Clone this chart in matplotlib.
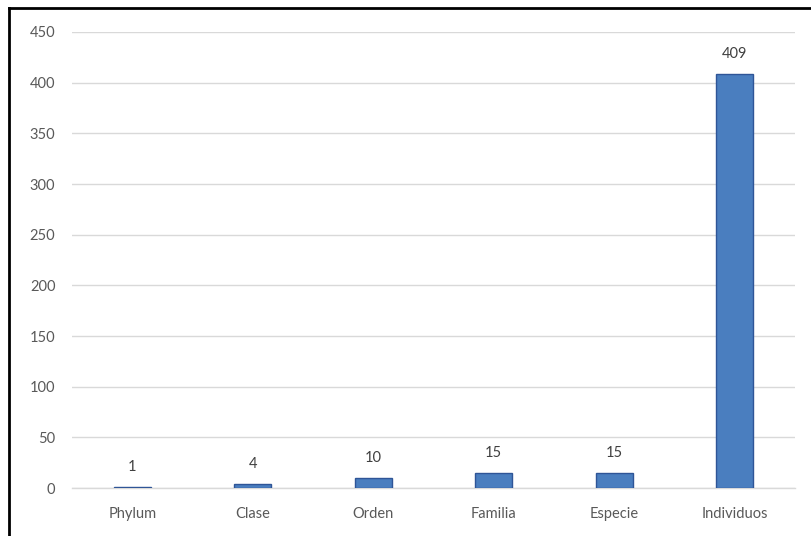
import matplotlib
matplotlib.use("Agg")
import matplotlib.pyplot as plt
from matplotlib.lines import Line2D

categories = ["Phylum", "Clase", "Orden", "Familia", "Especie", "Individuos"]
values = [1, 4, 10, 15, 15, 409]
yticks = [0, 50, 100, 150, 200, 250, 300, 350, 400, 450]

plt.rcParams["font.family"] = ["Lato", "DejaVu Sans"]

fig = plt.figure(figsize=(8.11, 5.36), dpi=100)
ax = fig.add_axes([72 / 811, 1 - 488 / 536, (795 - 72) / 811, (488 - 32) / 536])

x = list(range(len(categories)))
bars = ax.bar(x, values, width=0.31, color="#4A7EBF", edgecolor="#2F5597",
              linewidth=1.0, zorder=3)

for xi, v in zip(x, values):
    ax.annotate(str(v), (xi, v), xytext=(0, 9), textcoords="offset points",
                ha="center", va="bottom", fontsize=10.5, color="#404040")

ax.set_ylim(0, 450)
ax.set_xlim(-0.5, len(categories) - 0.5)
ax.set_yticks(yticks)
ax.set_xticks(x)
ax.set_xticklabels(categories)
ax.tick_params(axis="both", length=0, labelsize=10.5, colors="#595959")
ax.tick_params(axis="x", pad=14)
ax.tick_params(axis="y", pad=12)
ax.yaxis.grid(True, color="#D9D9D9", linewidth=1.0, zorder=0)
ax.set_axisbelow(True)
for side in ["top", "right", "left"]:
    ax.spines[side].set_visible(False)
ax.spines["bottom"].set_color("#D9D9D9")
ax.spines["bottom"].set_linewidth(1.0)

# frame around the chart (left and top edges)
fx = 9 / 811
fy = 1 - 8 / 536
fig.add_artist(Line2D([fx, fx], [0, fy], transform=fig.transFigure,
                      color="black", linewidth=2.0))
fig.add_artist(Line2D([fx, 1], [fy, fy], transform=fig.transFigure,
                      color="black", linewidth=2.0))

fig.savefig("out.png", dpi=100)
